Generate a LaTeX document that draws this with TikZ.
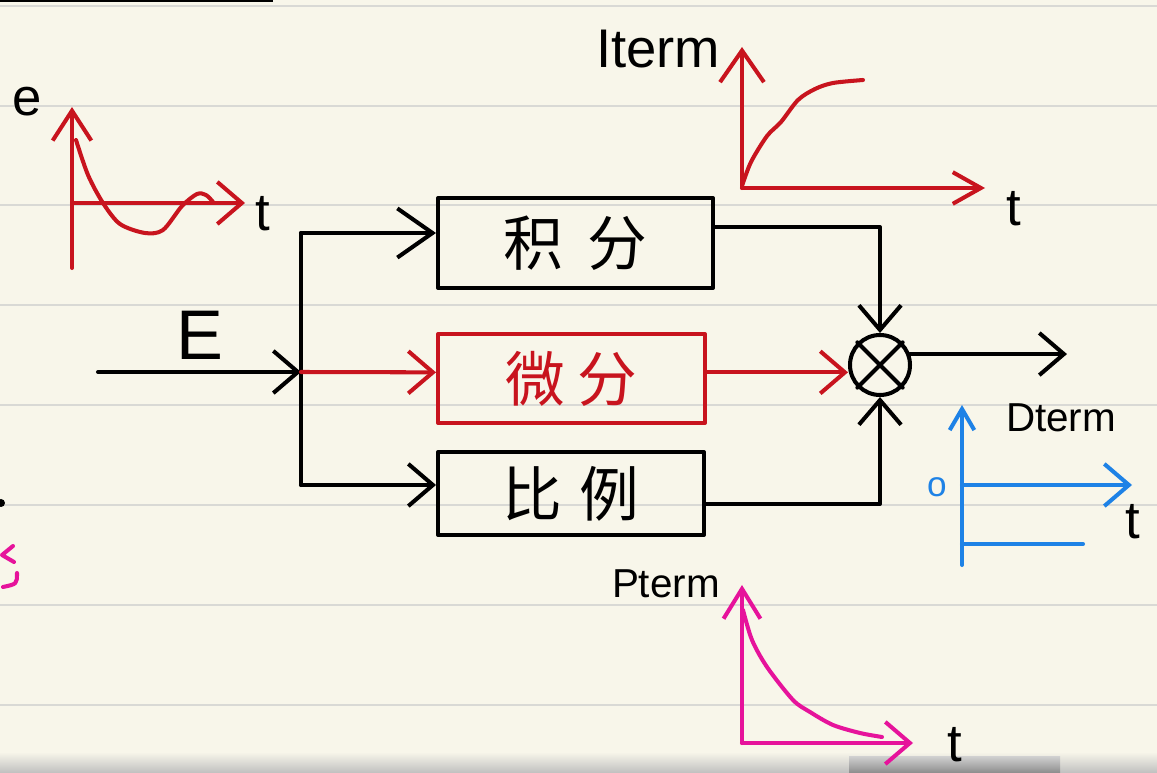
\documentclass[tikz,border=0pt]{standalone}
\usepackage{fontspec}
\setmainfont{Liberation Sans}
\newfontfamily\cjk{Noto Sans CJK SC}
\usepackage{xcolor}
\usepackage{tikz}
\usetikzlibrary{arrows.meta,calc}
\definecolor{paper}{HTML}{F8F6EA}
\definecolor{ruleline}{HTML}{D9D9D5}
\definecolor{pidred}{HTML}{C8141E}
\definecolor{pidpink}{HTML}{E6139B}
\definecolor{pidblue}{HTML}{1E82E6}

\begin{document}
\begin{tikzpicture}[x=0.02cm,y=-0.02cm,line width=2.3pt,line cap=round,line join=round,
  >={Straight Barb[length=14pt,width=24pt]},
  box/.style={draw,rectangle,inner sep=0pt,font=\cjk\fontsize{34}{40}\selectfont},
  lbl/.style={inner sep=0pt,font=\fontsize{30}{36}\selectfont},
  term/.style={inner sep=0pt,anchor=base west,font=\fontsize{23}{28}\selectfont}]
  \fill[paper] (0,0) rectangle (1157,773);
  \useasboundingbox (0,0) rectangle (1157,773);
  % ruled paper
  \foreach \y in {6,106,205,305,405,505,605,705}
    \draw[ruleline,line width=1.2pt] (0,\y) -- (1157,\y);
  \fill (0,0) rectangle (273,2.5);
  % video bar at the bottom
  \shade[top color=paper,bottom color=black!25,line width=0pt] (0,752) rectangle (1157,773);
  \shade[top color=black!18,bottom color=black!45,line width=0pt] (849,756) rectangle (1060,773);

  % block diagram
  \node[box,minimum width=5.5cm,minimum height=1.8cm] (ji) at (575.5,243) {积\hspace{0.4em}分};
  \node[box,draw=pidred,text=pidred,minimum width=5.34cm,minimum height=1.78cm] (wei) at (571.5,378.5) {微\hspace{0.2em}分};
  \node[box,minimum width=5.32cm,minimum height=1.66cm] (bi) at (571,493.5) {比\hspace{0.3em}例};
  \node[draw,circle,minimum size=1.2cm,inner sep=0pt] (sum) at (880,365) {};
  \draw (sum.north west) -- (sum.south east) (sum.south west) -- (sum.north east);

  \coordinate (ein) at (98,372);
  \coordinate (split) at (301,372);
  \coordinate (bt) at (301,233);
  \coordinate (bb) at (301,485);
  \coordinate (out) at (1067,355);
  \node[lbl,anchor=base west,font=\fontsize{40}{44}\selectfont] (E) at (174,360) {E};

  \draw[->] (ein) -- (split);
  \draw (bt) -- (bb);
  \draw[->,>={Straight Barb[length=20pt,width=28pt]}] (bt) -- (bt -| ji.west);
  \draw[pidred,->] (split) -- ([yshift=3.5pt]wei.west);
  \draw[->] (bb) -- (bb -| bi.west);
  \draw[->] ([yshift=9pt]ji.east) -| (sum.north);
  \draw[pidred,->] ([yshift=3.5pt]wei.east) -- ([yshift=3.5pt]wei.east -| sum.west);
  \draw[->] ([yshift=-6pt]bi.east) -| (sum.south);
  \draw[->] (sum.20) -- (sum.20 -| out);

  % e(t)
  \draw[pidred,->,>={Straight Barb[length=17pt,width=22pt]}] (72,268) -- (72,107);
  \draw[pidred,->] (72,203) -- (245,203);
  \draw[pidred] plot[smooth] coordinates {(76,140) (88,175) (103,203) (120,224) (145,233) (163,230) (182,206) (197,194) (206,195) (213,202)};
  \node[lbl] (e) at (27,102) {e};
  \node[lbl] (te) at (263,214) {t};

  % I term
  \draw[pidred,->,>={Straight Barb[length=18pt,width=25pt]}] (742,188) -- (742,47);
  \draw[pidred,->,>={Straight Barb[length=16pt,width=18pt]}] (742,188) -- (985,188);
  \draw[pidred] plot[smooth] coordinates {(742,186) (751,162) (767,136) (781,122) (798,100) (815,89) (833,83) (863,80)};
  \node[term,font=\fontsize{31}{36}\selectfont] (iterm) at (594,68) {Iterm};
  \node[lbl] (ti) at (1014,209) {t};

  % D term
  \draw[pidblue,->,>={Straight Barb[length=12pt,width=14pt]}] (962,565) -- (962,405);
  \draw[pidblue,->] (962,485) -- (1132,485);
  \draw[pidblue] (962,544) -- (1083,544);
  \node[lbl,text=pidblue,font=\fontsize{20}{24}\selectfont] (zero) at (937,487) {o};
  \node[term] (dterm) at (1004,432) {Dterm};
  \node[lbl] (td) at (1133,522) {t};

  % P term
  \draw[pidpink,->,>={Straight Barb[length=17pt,width=21pt]}] (742,743) -- (742,585);
  \draw[pidpink,->] (742,743) -- (913,743);
  \draw[pidpink] plot[smooth] coordinates {(743,610) (752,640) (767,667) (793,700) (810,712) (833,725) (860,733) (882,737)};
  \node[term] (pterm) at (610,598) {Pterm};
  \node[lbl] (tp) at (955,745) {t};

  % marks at the left edge
  \fill (1,503) circle (4);
  \draw[pidpink] (13,546) -- (2,555) -- (14,562);
  \draw[pidpink] (17,573) .. controls (17,584) .. (3,587);
\end{tikzpicture}
\end{document}
